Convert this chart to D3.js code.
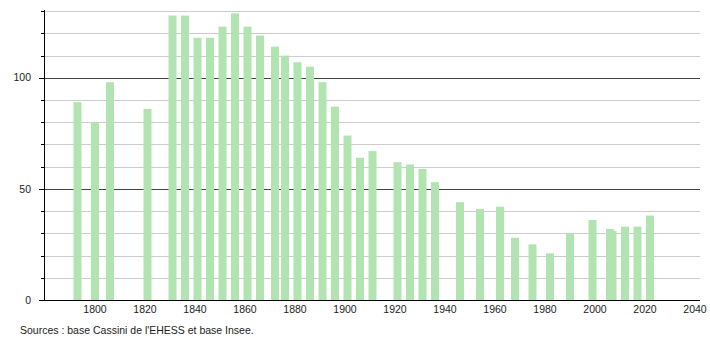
<!DOCTYPE html>
<html>
<head>
<meta charset="utf-8">
<script src="https://cdn.jsdelivr.net/npm/d3@7"></script>
<style>
  html, body { margin: 0; padding: 0; background: #fff; }
  svg { display: block; font-family: "Liberation Sans", Arial, sans-serif; }
</style>
</head>
<body>
<svg id="chart" width="710" height="340"></svg>
<script>
const years = [1793,1800,1806,1821,1831,1836,1841,1846,1851,1856,1861,1866,1872,1876,1881,1886,1891,1896,1901,1906,1911,1921,1926,1931,1936,1946,1954,1962,1968,1975,1982,1990,1999,2006,2007,2012,2017,2022];
const population = [89,80,98,86,128,128,118,118,123,129,123,119,114,110,107,105,98,87,74,64,67,62,61,59,53,44,41,42,28,25,21,30,36,32,31,33,33,38];
const xTicks = [1800,1820,1840,1860,1880,1900,1920,1940,1960,1980,2000,2020,2040];
const yGridTicks = [10,20,30,40,60,70,80,90,110,120,130];
const yMajorTicks = [0,50,100];
const sourceText = "Sources : base Cassini de l'EHESS et base Insee.";

const svg = d3.select("#chart");
const x = d3.scaleLinear().domain([1779.6, 2042]).range([44, 700]);
const y = d3.scaleLinear().domain([0, 130.5]).range([300, 10]);
const barW = 8;

// minor gridlines
svg.append("g").selectAll("line").data(yGridTicks).join("line")
  .attr("x1", 44).attr("x2", 700)
  .attr("y1", d => Math.round(y(d)) + 0.5).attr("y2", d => Math.round(y(d)) + 0.5)
  .attr("stroke", "#cccccc").attr("stroke-width", 1);
// minor ticks
svg.append("g").selectAll("line").data(yGridTicks).join("line")
  .attr("x1", 41).attr("x2", 44)
  .attr("y1", d => Math.round(y(d)) + 0.5).attr("y2", d => Math.round(y(d)) + 0.5)
  .attr("stroke", "#000").attr("stroke-width", 1);
// major gridlines
svg.append("g").selectAll("line").data(yMajorTicks.filter(d => d > 0)).join("line")
  .attr("x1", 44).attr("x2", 700)
  .attr("y1", d => Math.round(y(d)) + 0.5).attr("y2", d => Math.round(y(d)) + 0.5)
  .attr("stroke", "#444444").attr("stroke-width", 1);

// bars
svg.append("g").selectAll("rect").data(years).join("rect")
  .attr("x", (d) => x(d) - barW / 2)
  .attr("width", barW)
  .attr("y", (d, i) => y(population[i]))
  .attr("height", (d, i) => y(0) - y(population[i]))
  .attr("fill", "#b1e4b1");

// y axis line
svg.append("line").attr("x1", 44.5).attr("x2", 44.5).attr("y1", 10).attr("y2", 300)
  .attr("stroke", "#000").attr("stroke-width", 1);
// major ticks
svg.append("g").selectAll("line").data(yMajorTicks).join("line")
  .attr("x1", 39).attr("x2", 44)
  .attr("y1", d => Math.round(y(d)) + 0.5).attr("y2", d => Math.round(y(d)) + 0.5)
  .attr("stroke", "#000").attr("stroke-width", 1);
// x axis line
svg.append("line").attr("x1", 39).attr("x2", 700).attr("y1", 300.5).attr("y2", 300.5)
  .attr("stroke", "#000").attr("stroke-width", 1);

// y labels
svg.append("g").selectAll("text").data(yMajorTicks).join("text")
  .attr("x", 31).attr("y", d => y(d)).attr("dy", "0.35em")
  .attr("text-anchor", "end").attr("font-size", 10.5).attr("fill", "#222")
  .text(d => d);

// x labels
svg.append("g").selectAll("text").data(xTicks).join("text")
  .attr("x", d => x(d)).attr("y", 309).attr("dy", "0.35em")
  .attr("text-anchor", "middle").attr("font-size", 10.5).attr("fill", "#222")
  .text(d => d);

// source
svg.append("text").attr("x", 20).attr("y", 330).attr("dy", "0.35em")
  .attr("font-size", 10.5).attr("fill", "#222").text(sourceText);
</script>
</body>
</html>
